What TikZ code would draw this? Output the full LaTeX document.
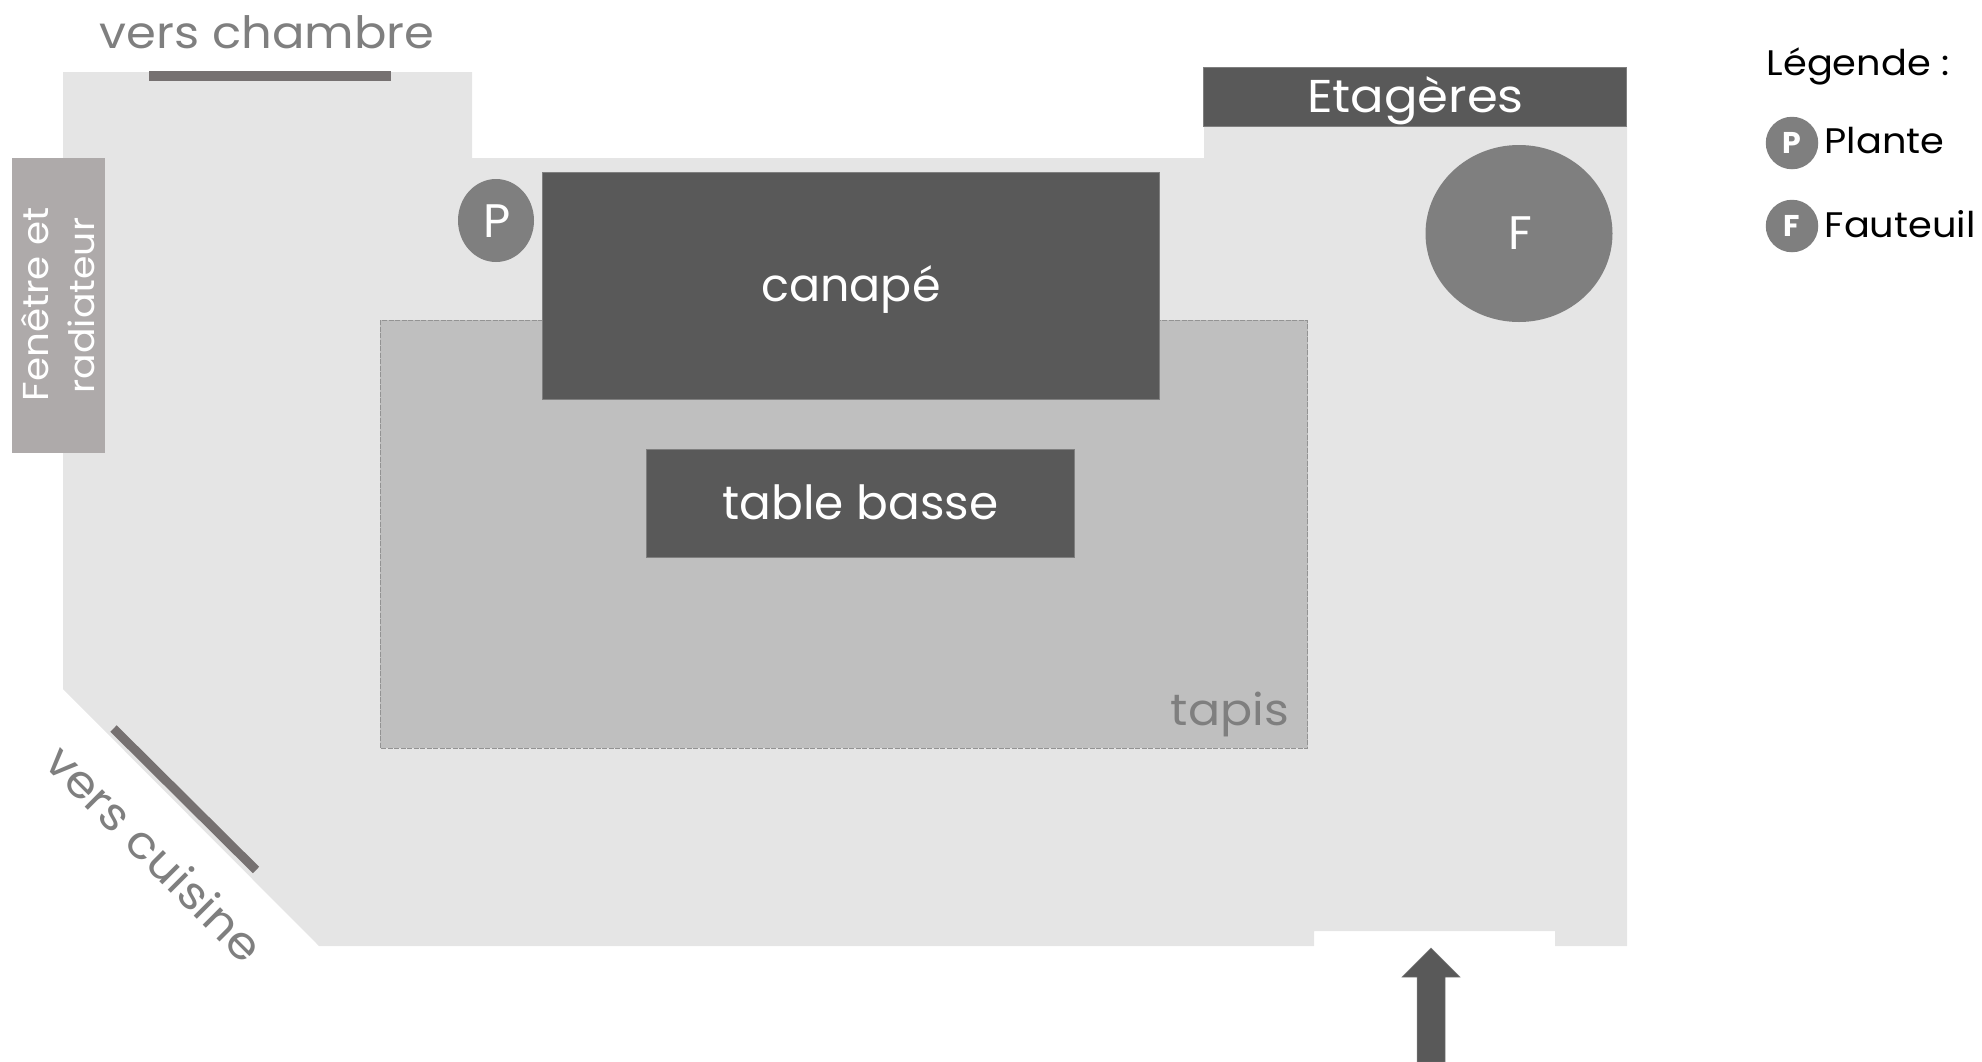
\documentclass[tikz,border=0pt]{standalone}
\usepackage{fontspec}
\setmainfont{Poppins}
\newfontfamily\wide[FakeStretch=1.08]{Poppins}
\usetikzlibrary{shapes.geometric}
\definecolor{roomc}{HTML}{E5E5E5}
\definecolor{rugc}{HTML}{BFBFBF}
\definecolor{darkc}{HTML}{595959}
\definecolor{midc}{HTML}{7F7F7F}
\definecolor{winc}{HTML}{AEAAAA}
\definecolor{barc}{HTML}{767171}
\newcommand{\fs}[1]{\fontsize{#1}{#1}\selectfont}
\tikzset{
  x=1pt,y=-1pt,
  box/.style={fill=darkc,draw=midc,line width=0.7pt},
  round/.style={fill=midc,draw=none},
  lightlabel/.style={text=white,inner sep=0pt,anchor=base},
  greylabel/.style={text=midc,inner sep=0pt,anchor=base},
  legendtext/.style={text=black,inner sep=0pt,anchor=base west,font=\wide\fs{35.5}},
  bullet/.style={fill=midc,draw=none,circle,minimum size=52.5pt,inner sep=0pt,text=white,font=\fs{30}\bfseries},
}
\begin{document}
\begin{tikzpicture}
\useasboundingbox (0,0) rectangle (1982,1061);
% room
\fill[roomc] (63,72) -- (472,72) -- (472,158) -- (1204,158) -- (1204,126) -- (1627,126)
  -- (1627,946) -- (1555,946) -- (1555,931) -- (1314,931) -- (1314,946) -- (319,946) -- (63,689) -- cycle;
% rug
\draw[fill=rugc,draw=gray!85,line width=1pt,dash pattern=on 5pt off 1.5pt] (380,320) rectangle (1307.5,748);
% furniture
\draw[box] (542,172) rectangle (1159.5,399);
\draw[box] (646,449.5) rectangle (1074.5,557);
\draw[box] (1203,67) rectangle (1626.5,126.5);
\fill[winc] (12,158) rectangle (105,453);
\node[round,ellipse,minimum width=76pt,minimum height=83pt,inner sep=0pt] (plante) at (496,220.5) {};
\node[round,ellipse,minimum width=187pt,minimum height=177pt,inner sep=0pt] (fauteuil) at (1519,233.5) {};
% walls
\coordinate (chambreA) at (149,76);
\coordinate (chambreB) at (391,76);
\coordinate (cuisineA) at (113.5,728.5);
\coordinate (cuisineB) at (256,870);
\draw[barc,line width=10pt] (chambreA) -- (chambreB);
\draw[barc,line width=9pt] (cuisineA) -- (cuisineB);
% arrow
\fill[darkc,draw=midc,line width=0.5pt] (1431,948) -- (1460,977) -- (1445,977) -- (1445,1062) -- (1417,1062) -- (1417,977) -- (1402,977) -- cycle;
% labels
\node[greylabel,font=\wide\fs{44.5}] (tchambre) at (267,48) {vers chambre};
\node[greylabel,font=\wide\fs{45},rotate=-45] (tcuisine) at (143,865) {vers cuisine};
\node[greylabel,font=\wide\fs{44}] (ttapis) at (1230,725.5) {tapis};
\node[lightlabel,font=\fs{46}] (tcanape) at (851,301) {canapé};
\node[lightlabel,font=\fs{47}] (ttable) at (860.5,519.5) {table basse};
\node[lightlabel,font=\wide\fs{46}] (tetag) at (1415.5,112) {Etagères};
\node[lightlabel,font=\fs{47}] (tp) at (497,237) {P};
\node[lightlabel,font=\fs{47}] (tf) at (1520,249) {F};
\node[lightlabel,font=\wide\fs{36},rotate=90] (tfen) at (48,304.5) {Fenêtre et};
\node[lightlabel,font=\wide\fs{35},rotate=90] (trad) at (94.5,305.5) {radiateur};
% legend
\node[legendtext] (tleg) at (1766.5,75) {Légende :};
\node[bullet] (lp) at (1792,143) {P};
\node[bullet] (lf) at (1792,226) {F};
\node[legendtext] (tplante) at (1824.5,153) {Plante};
\node[legendtext] (tfaut) at (1824.5,237) {Fauteuil};
\end{tikzpicture}
\end{document}
